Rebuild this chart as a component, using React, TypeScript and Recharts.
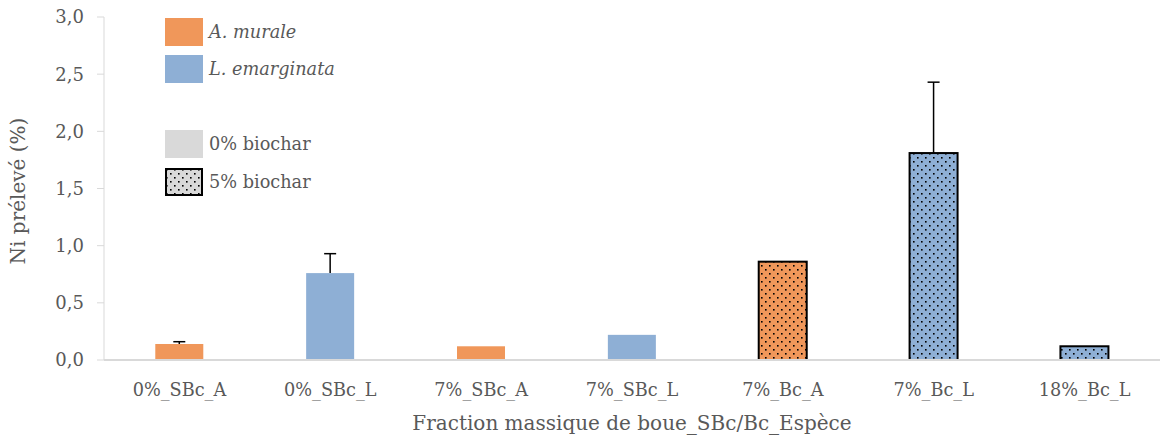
import { BarChart, Bar, XAxis, YAxis, Cell } from "recharts";

const categories = ["0%_SBc_A", "0%_SBc_L", "7%_SBc_A", "7%_SBc_L", "7%_Bc_A", "7%_Bc_L", "18%_Bc_L"];
const values = [0.14, 0.76, 0.12, 0.22, 0.86, 1.81, 0.12];
const errors = [0.02, 0.17, 0, 0, 0, 0.62, 0];
const species = ["A", "L", "A", "L", "A", "L", "L"];
const biochar = [0, 0, 0, 0, 5, 5, 5];
const yTicks = [0, 0.5, 1, 1.5, 2, 2.5, 3];

const data = categories.map((c, i) => ({
  name: c,
  value: values[i],
  err: errors[i],
  sp: species[i],
  bc: biochar[i],
}));

const ORANGE = "#f0975a";
const BLUE = "#8eafd5";
const TEXT = "#595959";
const FONT = "'DejaVu Serif', serif";

// bar rect + upper error whisker, scaled from the bar's own pixel height
function BarShape(props: any) {
  const { x, y, width, height, payload, value } = props;
  const dotted = payload.bc > 0;
  const fill = dotted ? (payload.sp === "A" ? "url(#dotsA)" : "url(#dotsL)") : payload.sp === "A" ? ORANGE : BLUE;
  const v = Array.isArray(value) ? value[1] - value[0] : value;
  const perUnit = v ? height / v : 0;
  const errTop = y - payload.err * perUnit;
  const cx = x + width / 2;
  return (
    <g>
      <rect x={x} y={y} width={width} height={height} fill={fill} stroke={dotted ? "#000" : "none"} strokeWidth={dotted ? 2 : 0} />
      {payload.err > 0 && (
        <g stroke="#000" strokeWidth={1.5}>
          <line x1={cx} x2={cx} y1={y} y2={errTop} />
          <line x1={cx - 6} x2={cx + 6} y1={errTop} y2={errTop} />
        </g>
      )}
    </g>
  );
}

function LegendItem({ y, fill, dotted, label, italic }: { y: number; fill: string; dotted?: boolean; label: string; italic?: boolean }) {
  return (
    <div style={{ position: "absolute", left: 165, top: y, display: "flex", alignItems: "center" }}>
      <svg width={38} height={28}>
        <rect
          x={dotted ? 1 : 0}
          y={dotted ? 1 : 0}
          width={dotted ? 36 : 38}
          height={dotted ? 26 : 28}
          fill={fill}
          stroke={dotted ? "#000" : "none"}
          strokeWidth={dotted ? 2 : 0}
        />
      </svg>
      <span style={{ marginLeft: 6, fontSize: 17.7, color: TEXT, fontStyle: italic ? "italic" : "normal", fontFamily: FONT }}>{label}</span>
    </div>
  );
}

export default function App() {
  return (
    <div style={{ position: "absolute", left: 0, top: 0, width: 1162, height: 436, background: "#fff", fontFamily: FONT }}>
      <svg width={0} height={0} style={{ position: "absolute" }}>
        <defs>
          <pattern id="dotsA" width={8} height={8} patternUnits="userSpaceOnUse">
            <rect width={8} height={8} fill={ORANGE} />
            <rect x={1} y={1} width={1.6} height={1.6} fill="#000" />
            <rect x={5} y={5} width={1.6} height={1.6} fill="#000" />
          </pattern>
          <pattern id="dotsL" width={8} height={8} patternUnits="userSpaceOnUse">
            <rect width={8} height={8} fill={BLUE} />
            <rect x={1} y={1} width={1.6} height={1.6} fill="#000" />
            <rect x={5} y={5} width={1.6} height={1.6} fill="#000" />
          </pattern>
          <pattern id="dotsG" width={8} height={8} patternUnits="userSpaceOnUse">
            <rect width={8} height={8} fill="#d9d9d9" />
            <rect x={1} y={1} width={1.6} height={1.6} fill="#000" />
            <rect x={5} y={5} width={1.6} height={1.6} fill="#000" />
          </pattern>
        </defs>
      </svg>
      <BarChart width={1162} height={436} data={data} margin={{ top: 17, right: 2, left: 0, bottom: 0 }} barCategoryGap="34%">
        <XAxis
          dataKey="name"
          tickLine={false}
          axisLine={{ stroke: "#d9d9d9", strokeWidth: 2 }}
          tick={{ fill: TEXT, fontSize: 17.7, fontFamily: FONT }}
          tickMargin={17}
          height={76}
          label={{ value: "Fraction massique de boue_SBc/Bc_Espèce", position: "insideBottom", offset: 6, fill: TEXT, fontSize: 20, fontFamily: FONT }}
        />
        <YAxis
          domain={[0, 3]}
          ticks={yTicks}
          interval={0}
          width={104}
          tickFormatter={(v: number) => v.toFixed(1).replace(".", ",")}
          tick={{ fill: TEXT, fontSize: 18, fontFamily: FONT }}
          tickLine={{ stroke: "#d9d9d9" }}
          tickSize={7}
          tickMargin={13}
          axisLine={{ stroke: "#d9d9d9" }}
        />
        <Bar dataKey="value" isAnimationActive={false} shape={BarShape}>
          {data.map((d) => (
            <Cell key={d.name} />
          ))}
        </Bar>
      </BarChart>
      <svg width={40} height={436} style={{ position: "absolute", left: 0, top: 0 }}>
        <text x={25} y={191} transform="rotate(-90 25 191)" textAnchor="middle" fill={TEXT} fontSize={20} fontFamily={FONT}>
          Ni prélevé (%)
        </text>
      </svg>
      <LegendItem y={18} fill={ORANGE} label="A. murale" italic />
      <LegendItem y={55} fill={BLUE} label="L. emarginata" italic />
      <LegendItem y={130} fill="#d9d9d9" label="0% biochar" />
      <LegendItem y={168} fill="url(#dotsG)" dotted label="5% biochar" />
    </div>
  );
}
